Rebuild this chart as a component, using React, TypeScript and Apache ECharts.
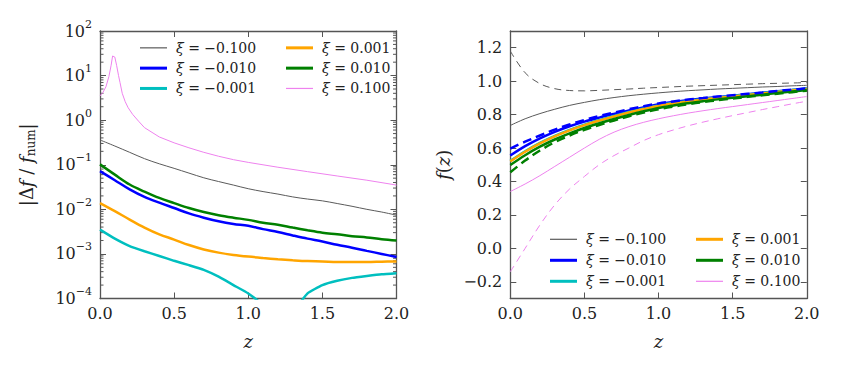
import React, { useEffect, useRef } from "react";
import * as echarts from "echarts";

// ---------- data ----------
const XI_LABELS = ["−0.100", "−0.010", "−0.001", "0.001", "0.010", "0.100"];
const COLORS = ["#5a5a5a", "#0000ff", "#00bfbf", "#ffa500", "#008000", "#ee82ee"];
const WIDTHS = [1, 2.5, 2.5, 2.5, 2.5, 1];

const Z = [0, 0.1, 0.2, 0.3, 0.4, 0.5, 0.6, 0.7, 0.8, 0.9, 1.0, 1.1, 1.2, 1.3, 1.4, 1.5, 1.6, 1.7, 1.8, 1.9, 2.0];

// left panel: |Δf / f_num|
const ERR_M0100 = [0.36, 0.263, 0.19, 0.137, 0.105, 0.083, 0.065, 0.051, 0.042, 0.035, 0.029, 0.025, 0.022, 0.019, 0.017, 0.0155, 0.0135, 0.0117, 0.010, 0.0087, 0.0074];
const ERR_M0010 = [0.072, 0.045, 0.028, 0.019, 0.0141, 0.0107, 0.0081, 0.0065, 0.0054, 0.0047, 0.00427, 0.0036, 0.0031, 0.0026, 0.0022, 0.0019, 0.0016, 0.00138, 0.00117, 0.001, 0.00085];
const ERR_M0001 = [0.0035, 0.0022, 0.0015, 0.00115, 0.0009, 0.0007, 0.00056, 0.00044, 0.00031, 0.0002, 0.00013, 0.00007, 0.00003, 0.00005, 0.00013, 0.0002, 0.00025, 0.00029, 0.00032, 0.00035, 0.00037];
const ERR_P0001 = [0.0138, 0.0091, 0.0059, 0.0039, 0.00275, 0.0021, 0.00158, 0.00126, 0.00107, 0.00095, 0.00087, 0.00081, 0.00076, 0.00072, 0.00069, 0.00068, 0.00066, 0.00066, 0.00066, 0.00067, 0.00068];
const ERR_P0010 = [0.102, 0.06, 0.036, 0.025, 0.018, 0.0138, 0.0107, 0.0087, 0.0074, 0.0065, 0.0058, 0.005, 0.0045, 0.0039, 0.0034, 0.003, 0.00275, 0.0025, 0.00234, 0.00214, 0.002];
const PINK_Z = [0, 0.02, 0.04, 0.06, 0.075, 0.085, 0.1, 0.112, 0.125, 0.135, 0.15, 0.17, 0.19, 0.22, 0.26, 0.3, 0.4, 0.5, 0.6, 0.7, 0.8, 0.9, 1.0, 1.2, 1.4, 1.6, 1.8, 2.0];
const ERR_P0100 = [3.5, 4.2, 5.6, 9.5, 17, 27.5, 26, 17, 10, 7, 4.0, 2.6, 1.9, 1.35, 0.95, 0.68, 0.42, 0.31, 0.24, 0.19, 0.155, 0.13, 0.113, 0.088, 0.07, 0.056, 0.045, 0.035];

// right panel: f(z), solid
const F_M0100 = [0.735, 0.775, 0.806, 0.832, 0.855, 0.873, 0.889, 0.902, 0.913, 0.922, 0.93, 0.937, 0.943, 0.948, 0.953, 0.957, 0.961, 0.965, 0.968, 0.972, 0.975];
const F_M0010 = [0.555, 0.611, 0.658, 0.697, 0.73, 0.758, 0.782, 0.804, 0.825, 0.844, 0.862, 0.875, 0.886, 0.896, 0.905, 0.913, 0.922, 0.93, 0.939, 0.947, 0.956];
const F_M0001 = [0.523, 0.581, 0.631, 0.673, 0.709, 0.74, 0.767, 0.792, 0.815, 0.836, 0.855, 0.869, 0.881, 0.892, 0.902, 0.911, 0.92, 0.929, 0.938, 0.947, 0.956];
const F_P0001 = [0.52, 0.578, 0.628, 0.67, 0.706, 0.737, 0.764, 0.789, 0.812, 0.833, 0.852, 0.866, 0.878, 0.889, 0.899, 0.908, 0.917, 0.926, 0.935, 0.944, 0.953];
const F_P0010 = [0.498, 0.557, 0.608, 0.651, 0.688, 0.72, 0.748, 0.774, 0.798, 0.82, 0.84, 0.855, 0.868, 0.88, 0.891, 0.9, 0.91, 0.919, 0.929, 0.938, 0.947];
const F_P0100 = [0.34, 0.385, 0.435, 0.49, 0.545, 0.6, 0.652, 0.695, 0.728, 0.754, 0.775, 0.793, 0.809, 0.823, 0.836, 0.848, 0.86, 0.872, 0.884, 0.896, 0.908];
// right panel: dashed
const FD_M0100 = [1.18, 1.05, 0.985, 0.955, 0.944, 0.942, 0.945, 0.949, 0.953, 0.958, 0.962, 0.966, 0.97, 0.973, 0.976, 0.979, 0.982, 0.985, 0.987, 0.989, 0.991];
const FD_M0010 = [0.597, 0.638, 0.675, 0.71, 0.741, 0.768, 0.791, 0.812, 0.832, 0.85, 0.867, 0.879, 0.89, 0.899, 0.908, 0.916, 0.924, 0.932, 0.941, 0.949, 0.957];
const FD_P0010 = [0.455, 0.525, 0.585, 0.635, 0.675, 0.709, 0.738, 0.765, 0.79, 0.812, 0.832, 0.848, 0.862, 0.875, 0.886, 0.896, 0.906, 0.915, 0.925, 0.934, 0.943];
const FD_P0100 = [-0.14, 0.0, 0.14, 0.26, 0.355, 0.43, 0.5, 0.555, 0.6, 0.645, 0.68, 0.708, 0.733, 0.755, 0.775, 0.794, 0.812, 0.83, 0.847, 0.864, 0.88];

const LOG_DECADES = [-4, -3, -2, -1, 0, 1];
const MINOR_MULT = [2, 3, 4, 5, 6, 7, 8, 9];

// ---------- style ----------
const FONT = "DejaVu Serif";
const FRAME = "#555555";
const TEXT = "#222222";

const names = XI_LABELS.map((l) => `ξ = ${l}`);

function pairs(xs: number[], ys: number[]) {
  return xs.map((x, i) => [x, ys[i]]);
}

export default function App() {
  const ref = useRef<HTMLDivElement>(null);
  useEffect(() => {
    if (!ref.current) return;
    const chart = echarts.init(ref.current, undefined, { renderer: "svg" });

    const frameLine = { show: true, onZero: false, lineStyle: { color: FRAME, width: 1.3 } };
    const tick = { show: true, inside: true, length: 6, lineStyle: { color: FRAME, width: 1 } };
    const tickLabel = { fontFamily: FONT, fontSize: 16, color: TEXT };

    const xAx = (grid: number, pos: string, labels: boolean) => ({
      gridIndex: grid,
      type: "value",
      min: 0,
      max: 2,
      interval: 0.5,
      position: pos,
      axisLine: frameLine,
      axisTick: tick,
      splitLine: { show: false },
      axisLabel: labels
        ? { ...tickLabel, margin: 7, formatter: (v: number) => v.toFixed(1) }
        : { show: false },
      ...(labels
        ? {
            name: "z",
            nameLocation: "middle",
            nameGap: 34,
            nameTextStyle: { fontFamily: FONT, fontStyle: "italic", fontSize: 18, color: TEXT },
          }
        : {}),
    });

    const supRich = {
      b: { fontFamily: FONT, fontSize: 16, color: TEXT },
      s: { fontFamily: FONT, fontSize: 11, color: TEXT, padding: [0, 0, 14, 0] },
    };
    const logAx = (pos: string, labels: boolean) => ({
      gridIndex: 0,
      type: "log",
      logBase: 10,
      min: 1e-4,
      max: 100,
      position: pos,
      axisLine: frameLine,
      axisTick: tick,
      splitLine: { show: false },
      minorTick: { show: false },
      axisLabel: labels
        ? {
            margin: 8,
            formatter: (v: number) => {
              const e = Math.round(Math.log10(v));
              return `{b|10}{s|${e < 0 ? "−" + -e : e}}`;
            },
            rich: supRich,
          }
        : { show: false },
      ...(labels
        ? {
            name: "{n||Δ}{i|f}{n| / }{i|f}{s|num}{n||}",
            nameLocation: "middle",
            nameRotate: 90,
            nameGap: 63,
            nameTextStyle: {
              rich: {
                n: { fontFamily: FONT, fontSize: 18, color: TEXT },
                i: { fontFamily: FONT, fontSize: 18, fontStyle: "italic", color: TEXT },
                s: { fontFamily: FONT, fontSize: 12, color: TEXT, padding: [9, 0, 0, 0] },
              },
            },
          }
        : {}),
    });

    const linAx = (pos: string, labels: boolean) => ({
      gridIndex: 1,
      type: "value",
      min: -0.3,
      max: 1.3,
      splitNumber: 8,
      position: pos,
      axisLine: frameLine,
      axisTick: tick,
      splitLine: { show: false },
      axisLabel: labels
        ? {
            ...tickLabel,
            margin: 8,
            showMinLabel: false,
            showMaxLabel: false,
            formatter: (v: number) => (v < 0 ? "−" + (-v).toFixed(1) : v.toFixed(1)),
          }
        : { show: false },
      ...(labels
        ? {
            name: "{i|f}{n|(}{i|z}{n|)}",
            nameLocation: "middle",
            nameRotate: 90,
            nameGap: 58,
            nameTextStyle: {
              rich: {
                n: { fontFamily: FONT, fontSize: 18, color: TEXT },
                i: { fontFamily: FONT, fontSize: 18, fontStyle: "italic", color: TEXT },
              },
            },
          }
        : {}),
    });

    const errData = [ERR_M0100, ERR_M0010, ERR_M0001, ERR_P0001, ERR_P0010];
    const leftSeries: any[] = errData.map((d, i) => ({
      name: names[i],
      type: "line",
      xAxisIndex: 0,
      yAxisIndex: 0,
      data: pairs(Z, d),
      symbol: "none",
      smooth: i === 2 ? 0.15 : 0.35,
      lineStyle: { color: COLORS[i], width: WIDTHS[i] },
      itemStyle: { color: COLORS[i] },
    }));
    leftSeries.push({
      name: names[5],
      type: "line",
      xAxisIndex: 0,
      yAxisIndex: 0,
      data: pairs(PINK_Z, ERR_P0100),
      symbol: "none",
      smooth: false,
      lineStyle: { color: COLORS[5], width: WIDTHS[5] },
      itemStyle: { color: COLORS[5] },
    });

    const minorTicks: number[][] = [];
    LOG_DECADES.forEach((d) => MINOR_MULT.forEach((m) => minorTicks.push([0, m * Math.pow(10, d)])));
    leftSeries.push({
      type: "custom",
      xAxisIndex: 0,
      yAxisIndex: 0,
      silent: true,
      data: minorTicks,
      renderItem: (_p: any, api: any) => {
        const v = api.value(1);
        const a = api.coord([0, v]);
        const b = api.coord([2, v]);
        return {
          type: "group",
          children: [
            { type: "line", shape: { x1: a[0], y1: a[1], x2: a[0] + 3.5, y2: a[1] }, style: { stroke: FRAME, lineWidth: 1 } },
            { type: "line", shape: { x1: b[0], y1: b[1], x2: b[0] - 3.5, y2: b[1] }, style: { stroke: FRAME, lineWidth: 1 } },
          ],
        };
      },
    });

    const fData = [F_M0100, F_M0010, F_M0001, F_P0001, F_P0010, F_P0100];
    const rightSeries: any[] = fData.map((d, i) => ({
      name: names[i],
      type: "line",
      xAxisIndex: 2,
      yAxisIndex: 2,
      data: pairs(Z, d),
      symbol: "none",
      smooth: 0.35,
      lineStyle: { color: COLORS[i], width: WIDTHS[i] },
      itemStyle: { color: COLORS[i] },
    }));
    const dashed: [number[], number, number[]][] = [
      [FD_M0100, 0, [7, 5]],
      [FD_M0010, 1, [9, 5]],
      [FD_P0010, 4, [9, 5]],
      [FD_P0100, 5, [7, 5]],
    ];
    dashed.forEach(([d, ci, dash]) => {
      rightSeries.push({
        name: "approx " + XI_LABELS[ci],
        type: "line",
        xAxisIndex: 2,
        yAxisIndex: 2,
        data: pairs(Z, d),
        symbol: "none",
        smooth: 0.35,
        lineStyle: { color: COLORS[ci], width: WIDTHS[ci], type: dash },
      });
    });

    const legendItem = (idx: number) => ({
      name: names[idx],
      icon: WIDTHS[idx] > 1.5 ? "path://M0,0H27V3H0Z" : "path://M0,0H27V1.2H0Z",
      itemStyle: { color: COLORS[idx], borderWidth: 0 },
    });

    const legendCol = (idxs: number[], left: number, top: number, lh: number) => ({
      data: idxs.map(legendItem),
      left,
      top,
      orient: "vertical",
      padding: 0,
      itemWidth: 27,
      itemHeight: 12,
      itemGap: 0,
      symbolKeepAspect: true,
      selectedMode: false,
      textStyle: {
        fontFamily: FONT,
        fontSize: 14,
        color: TEXT,
        lineHeight: lh,
        padding: [0, 0, 0, 4],
        rich: {
          i: { fontFamily: FONT, fontSize: 14, fontStyle: "italic", color: TEXT, lineHeight: lh },
          n: { fontFamily: FONT, fontSize: 14, color: TEXT, lineHeight: lh },
        },
      },
      formatter: (name: string) => `{i|ξ}{n| = ${name.replace("ξ = ", "")}}`,
    });

    chart.setOption({
      animation: false,
      backgroundColor: "#ffffff",
      grid: [
        { left: 100, top: 31, width: 296.5, height: 267.5 },
        { left: 510.3, top: 31, width: 296.5, height: 267.5 },
      ],
      xAxis: [xAx(0, "bottom", true), xAx(0, "top", false), xAx(1, "bottom", true), xAx(1, "top", false)],
      yAxis: [logAx("left", true), logAx("right", false), linAx("left", true), linAx("right", false)],
      legend: [
        legendCol([0, 1, 2], 140, 37.7, 20.3),
        legendCol([3, 4, 5], 286, 37.7, 20.3),
        legendCol([0, 1, 2], 550, 228.8, 21),
        legendCol([3, 4, 5], 696, 228.8, 21),
      ],
      series: [...leftSeries, ...rightSeries],
    });
    return () => chart.dispose();
  }, []);
  return <div ref={ref} style={{ position: "fixed", left: 0, top: 0, width: 842, height: 374 }} />;
}
